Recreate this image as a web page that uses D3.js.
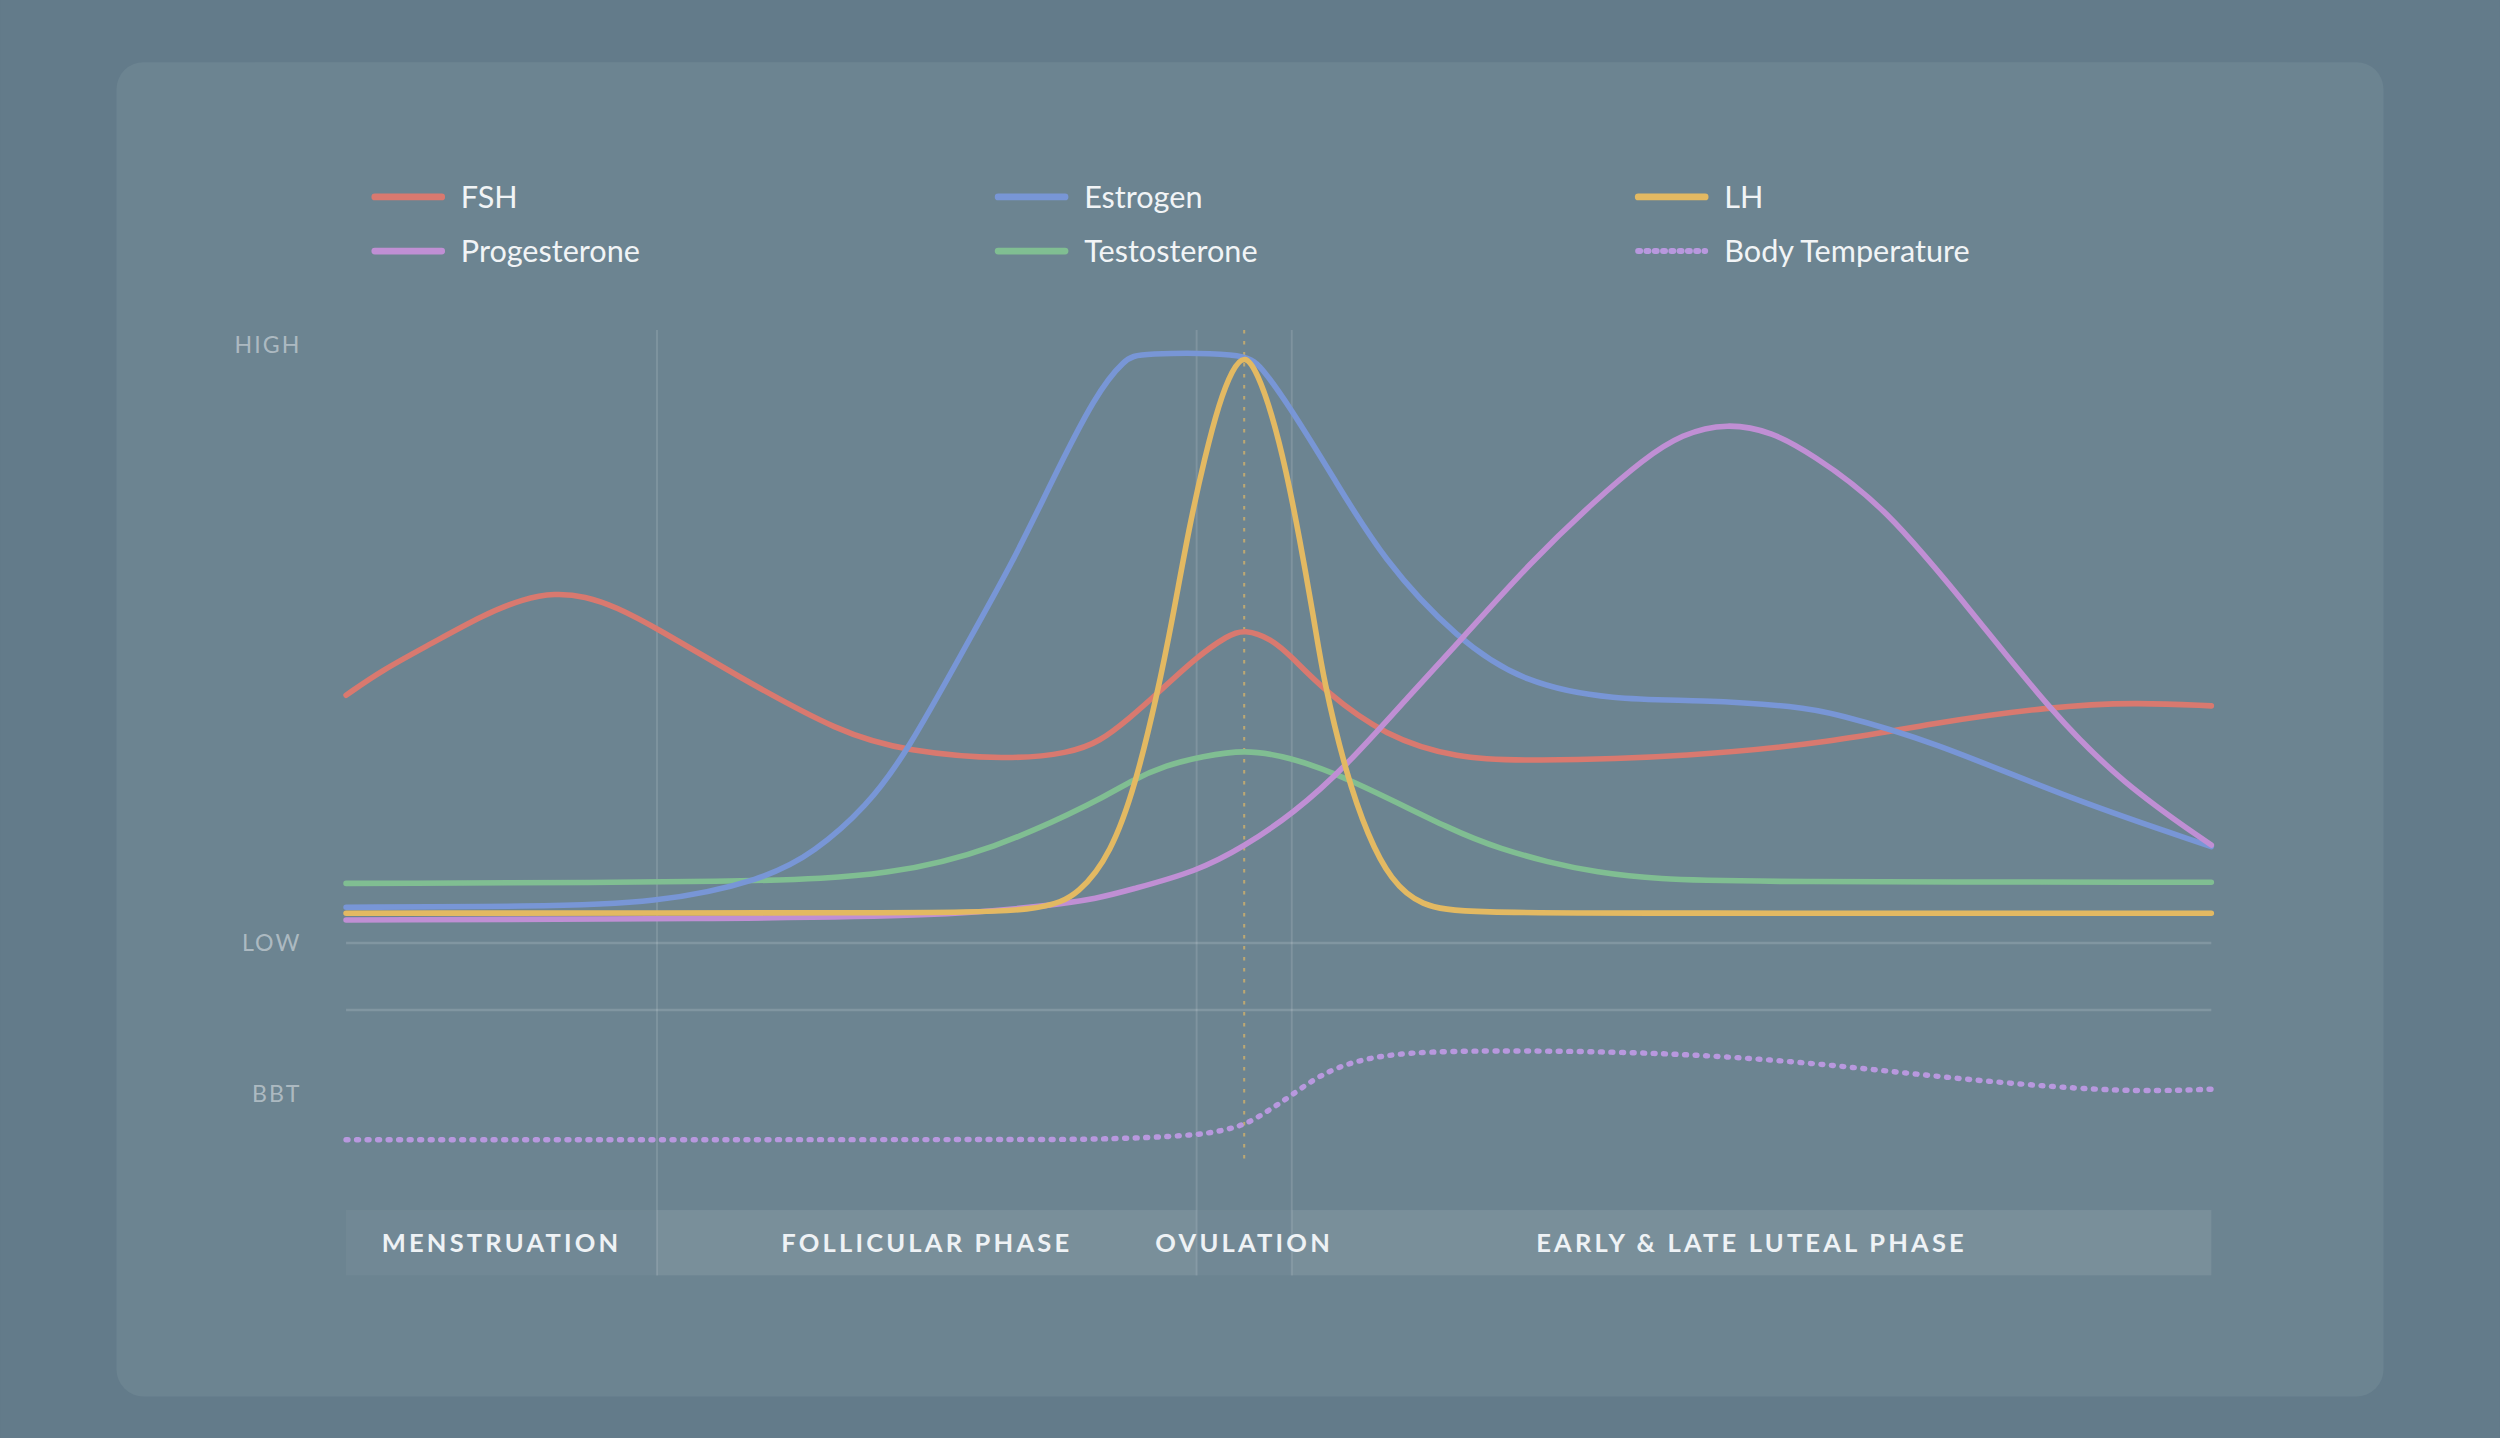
<!DOCTYPE html>
<html>
<head>
<meta charset="utf-8">
<script src="https://cdn.jsdelivr.net/npm/d3@7"></script>
<style>
  html, body { margin: 0; padding: 0; background: #637b8a; overflow: hidden; }
  svg { display: block; font-family: Lato, "Open Sans", sans-serif; }
</style>
</head>
<body>
<svg id="chart"></svg>
<script>
// cycle progress (0-100 %) and relative hormone level (0 = low, 100 = high)
var fsh = [[0, 42.0], [1.9, 46.2], [4.6, 50.8], [7.34, 55.6], [9.54, 58.4], [11.18, 59.3], [12.82, 58.8],
  [14.46, 57.0], [16.65, 53.4], [21.0, 45.2], [26.5, 35.6], [30.05, 32.5], [35.5, 31.0], [38.8, 32.2],
  [40.4, 34.1], [42.0, 38.1], [43.5, 42.3], [45.6, 48.5], [47.3, 52.2], [48.15, 53.2], [49.6, 51.6],
  [50.7, 48.5], [52.4, 42.9], [55.7, 35.0], [59.6, 31.3], [63.2, 30.8], [72.1, 31.6], [79.8, 34.1],
  [84.9, 37.2], [91.4, 40.1], [96.0, 40.8], [100, 40.2]];

var estrogen = [[0, 6.05], [10, 6.2], [16.65, 6.7], [22.4, 10.7], [25.1, 15.3], [27.9, 23.1], [30.05, 32.2],
  [33.3, 50.8], [35.8, 64.9], [37.7, 77.4], [40.2, 93.2], [41.8, 99.1], [42.5, 100], [48.2, 100],
  [49.0, 98.0], [50.6, 90.9], [52.9, 79.1], [55.6, 64.9], [59.6, 51.4], [63.2, 44.0], [67.9, 41.2],
  [72.7, 41.2], [77.9, 40.1], [79.8, 38.9], [84.9, 34.4], [92.6, 24.2], [100, 16.35]];

var lh = [[0, 5.05], [30, 5.1], [37.4, 5.3], [39.35, 8.4], [41.0, 15.2], [42.3, 26.5], [43.5, 42.3], [44.3, 54.8],
  [45.2, 70.6], [46.05, 82.5], [46.8, 91.5], [47.5, 97.2], [48.2, 100], [48.9, 96.3], [49.6, 90.1],
  [50.4, 80.2], [51.1, 68.9], [51.9, 54.8], [52.4, 44.6], [53.6, 28.8], [54.8, 18.0], [56.0, 10.7],
  [57.6, 6.2], [60.1, 5.1], [70, 5.05], [100, 5.05]];

var progesterone = [[0, 3.9], [20, 4.1], [31.9, 4.6], [37.4, 6.2], [40.4, 7.6], [42.0, 9.0], [45.6, 12.1],
  [48.15, 16.35], [50.8, 22.0], [53.6, 29.9], [57.1, 42.3], [59.6, 50.8], [63.6, 64.9], [67.0, 75.1],
  [69.55, 82.0], [71.6, 86.3], [74.05, 88.2], [76.5, 86.6], [78.5, 83.0], [82.4, 74.5], [87.5, 54.8],
  [91.35, 39.5], [95.2, 27.1], [100, 16.6]];

var testosterone = [[0, 10.1], [22.4, 10.3], [29.2, 11.5], [34.7, 15.8], [40.4, 24.2], [42.0, 27.4],
  [44.0, 30.2], [45.9, 31.6], [48.15, 32.8], [50.5, 31.6], [53.6, 28.2], [59.6, 18.6], [61.9, 16.0],
  [64.4, 13.7], [67.0, 12.0], [70.3, 10.8], [75, 10.35], [100, 10.3]];

// basal body temperature, relative (0 = bottom of BBT band, 100 = top)
var bbt = [[0, 35.1], [37, 35.2], [40.4, 35.3], [45.5, 37.1], [47.1, 39.9], [48.3, 43.0], [49.5, 50.0],
  [50.6, 56.7], [52.2, 67.6], [54.2, 75.1], [56.9, 78.9], [61.3, 79.7], [67.9, 79.2], [73.8, 77.0],
  [79.7, 72.5], [85.6, 66.4], [91.5, 61.4], [96.2, 59.2], [100, 60.4]];

var phaseNames = ["MENSTRUATION", "FOLLICULAR PHASE", "OVULATION", "EARLY & LATE LUTEAL PHASE"];
var phaseBreaks = [0, 16.67, 45.6, 50.7, 100];
var ovulationDay = 48.15;

var legendNames = ["FSH", "Estrogen", "LH", "Progesterone", "Testosterone", "Body Temperature"];

var W = 1568, H = 902;
var svg = d3.select("#chart")
  .attr("width", 2500).attr("height", 1438)
  .attr("viewBox", "0 0 " + W + " " + H);

var colors = {
  "FSH": "#d9796f", "Estrogen": "#7896d6", "LH": "#e3b962",
  "Progesterone": "#c08fd4", "Testosterone": "#80be92", "Body Temperature": "#b898de"
};

// card
svg.append("rect").attr("width", W).attr("height", H).attr("fill", "#637b8a");
svg.append("rect")
  .attr("x", 73).attr("y", 39).attr("width", 1422).attr("height", 837)
  .attr("rx", 17).attr("fill", "#6c8491");

var plotTop = 207, bandTop = 759, bandBottom = 800;
var x = d3.scaleLinear().domain([0, 100]).range([217, 1387]);
var y = d3.scaleLinear().domain([0, 100]).range([591.5, 221.5]);
var yBbt = d3.scaleLinear().domain([0, 100]).range([bandTop, 633.5]);

// legend
var legendCols = [233, 624, 1025.5], legendRows = [123.5, 157.5];
var leg = svg.append("g").selectAll("g").data(legendNames).join("g")
  .attr("transform", function(d, i) {
    return "translate(" + legendCols[i % 3] + "," + legendRows[Math.floor(i / 3)] + ")";
  });
leg.append("line")
  .attr("x1", 2).attr("x2", 44)
  .attr("stroke", function(d) { return colors[d]; })
  .attr("stroke-width", function(d) { return d === "Body Temperature" ? 3.8 : 4.2; })
  .attr("stroke-linecap", "round")
  .attr("stroke-dasharray", function(d) { return d === "Body Temperature" ? "1.2 4" : null; });
leg.append("text")
  .attr("x", 56).attr("dy", "0.35em")
  .attr("fill", "#f1f4f6").attr("font-size", 19.2)
  .text(function(d) { return d; });

// phase band
var phases = phaseNames.map(function(n, i) { return {name: n, a: phaseBreaks[i], b: phaseBreaks[i + 1]}; });
var band = svg.append("g");
band.selectAll("rect").data(phases).join("rect")
  .attr("x", function(d) { return x(d.a); })
  .attr("width", function(d) { return x(d.b) - x(d.a); })
  .attr("y", bandTop).attr("height", bandBottom - bandTop)
  .attr("fill", "#fff")
  .attr("fill-opacity", function(d, i) { return i % 2 ? 0.09 : 0.04; });
band.selectAll("text").data(phases).join("text")
  .attr("x", function(d) { return (x(d.a) + x(d.b)) / 2; })
  .attr("y", (bandTop + bandBottom) / 2)
  .attr("dy", "0.36em")
  .attr("text-anchor", "middle")
  .attr("fill", "#eef2f5").attr("font-size", 16).attr("font-weight", 700)
  .attr("letter-spacing", 2)
  .text(function(d) { return d.name; });

// grid
var grid = svg.append("g").attr("stroke", "#fff");
grid.selectAll("line.v").data(phaseBreaks.slice(1, -1)).join("line")
  .attr("class", "v")
  .attr("x1", function(d) { return x(d); }).attr("x2", function(d) { return x(d); })
  .attr("y1", plotTop).attr("y2", bandBottom)
  .attr("stroke-opacity", 0.13).attr("stroke-width", 1.2);
grid.selectAll("line.h").data([y(0), yBbt(100)]).join("line")
  .attr("class", "h")
  .attr("x1", x(0)).attr("x2", x(100))
  .attr("y1", function(d) { return d; }).attr("y2", function(d) { return d; })
  .attr("stroke-opacity", 0.15).attr("stroke-width", 1.6);
svg.append("line")
  .attr("x1", x(ovulationDay)).attr("x2", x(ovulationDay))
  .attr("y1", plotTop).attr("y2", 729)
  .attr("stroke", "#d8b468").attr("stroke-opacity", 0.75)
  .attr("stroke-width", 1.3).attr("stroke-dasharray", "2.2 4.7");

// level labels
var levelLabels = [
  {text: "HIGH", pos: y(101.5)},
  {text: "LOW", pos: y(0)},
  {text: "BBT", pos: yBbt(58)}
];
svg.append("g").selectAll("text").data(levelLabels).join("text")
  .attr("x", 189).attr("y", function(d) { return d.pos; })
  .attr("dy", "0.36em").attr("text-anchor", "end")
  .attr("fill", "#fff").attr("fill-opacity", 0.45)
  .attr("font-size", 14.5).attr("letter-spacing", 1.3)
  .text(function(d) { return d.text; });

// hormone lines
var line = d3.line()
  .x(function(d) { return x(d[0]); })
  .y(function(d) { return y(d[1]); })
  .curve(d3.curveBasis);
var series = [
  {name: "Testosterone", values: testosterone},
  {name: "FSH", values: fsh},
  {name: "Estrogen", values: estrogen},
  {name: "Progesterone", values: progesterone},
  {name: "LH", values: lh}
];
svg.append("g").selectAll("path").data(series).join("path")
  .attr("d", function(d) { return line(d.values); })
  .attr("fill", "none")
  .attr("stroke", function(d) { return colors[d.name]; })
  .attr("stroke-width", 3.5)
  .attr("stroke-linecap", "round").attr("stroke-linejoin", "round");

var bbtLine = d3.line()
  .x(function(d) { return x(d[0]); })
  .y(function(d) { return yBbt(d[1]); })
  .curve(d3.curveBasis);
svg.append("path")
  .attr("d", bbtLine(bbt))
  .attr("fill", "none")
  .attr("stroke", colors["Body Temperature"])
  .attr("stroke-width", 3.4)
  .attr("stroke-linecap", "round")
  .attr("stroke-dasharray", "1.2 5.4");
</script>
</body>
</html>
